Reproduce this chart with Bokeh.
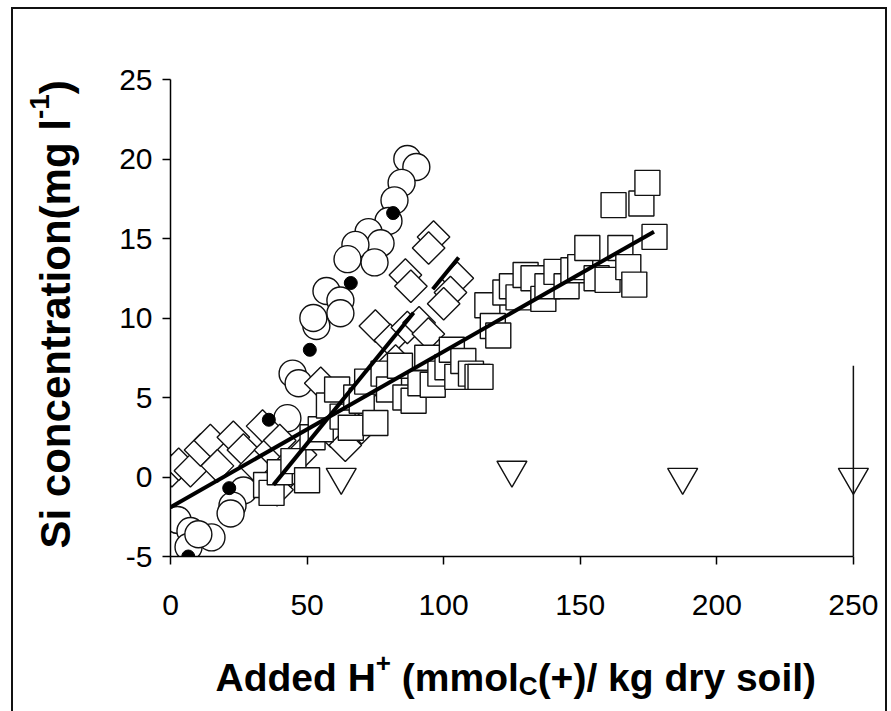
import numpy as np
from bokeh.plotting import figure
from bokeh.layouts import column, row
from bokeh.models import Range1d, FixedTicker, Label
from bokeh.embed import file_html
from bokeh.resources import INLINE

# ---------------- data ----------------
circle_x = [86.7, 90.0, 84.6, 82.0, 79.8, 72.5, 76.9, 67.7, 64.8, 74.7, 57.1, 62.2, 62.2,
            53.4, 52.3, 44.7, 46.9, 42.8, 26.7, 22.7, 22.0, 2.6, 7.3, 15.0, 6.6, 10.2]
circle_y = [20.0, 19.5, 18.5, 17.4, 16.1, 15.4, 14.7, 14.6, 13.7, 13.5, 11.7, 11.1, 10.3,
            9.5, 10.0, 6.5, 5.9, 3.7, -0.85, -1.8, -2.3, -2.7, -3.4, -3.8, -4.4, -3.6]

dot_x = [6.5, 21.5, 36.0, 51.0, 66.0, 81.5]
dot_y = [-5.0, -0.7, 3.6, 8.0, 12.2, 16.6]

diamond_x = [0.5, 3.0, 7.3, 11.0, 14.6, 17.2, 23.0, 26.7, 31.0, 33.7, 36.6, 40.0, 39.0,
             44.0, 47.6, 55.0, 61.0, 66.0, 58.6, 64.0, 70.0, 73.0, 77.6, 75.0, 80.5,
             82.4, 86.7, 91.0, 94.4, 86.0, 88.0, 96.3, 94.5, 105.0, 102.5, 100.0]
diamond_y = [0.4, 0.8, 0.4, 1.7, 2.3, 0.7, 2.5, 1.7, 0.7, 3.2, 1.7, 2.3, -0.8,
             0.4, 1.4, 5.9, 4.8, 3.6, 2.9, 2.0, 3.1, 5.8, 5.9, 9.5, 8.6,
             7.3, 9.4, 9.7, 9.0, 12.7, 12.0, 15.1, 14.4, 12.5, 11.6, 10.9]

square_x = [35.0, 37.0, 40.0, 45.0, 50.0, 52.0, 55.0, 58.0, 61.0, 63.0, 66.0, 68.0, 70.0,
            72.0, 75.0, 78.0, 80.0, 84.0, 86.0, 89.0, 91.5, 94.0, 96.0, 98.8, 101.4, 103.0,
            105.0, 107.2, 110.0, 112.4, 113.5, 116.0, 118.0, 120.0, 122.6, 125.0, 127.4,
            130.0, 132.9, 136.5, 138.0, 141.3, 145.0, 147.5, 150.0, 152.6, 156.0, 160.0,
            162.2, 164.7, 167.6, 169.8, 172.4, 174.6, 177.2]
square_y = [-0.5, -1.0, 0.3, 1.0, -0.2, 2.5, 3.0, 4.5, 5.5, 3.8, 3.1, 5.0, 4.8,
            6.0, 3.4, 6.5, 5.5, 7.0, 5.0, 4.8, 5.9, 7.5, 5.8, 6.5, 6.9, 8.0,
            6.3, 7.3, 6.5, 6.3, 6.3, 10.8, 9.5, 8.9, 11.6, 12.0, 11.3,
            12.7, 12.5, 11.2, 12.0, 12.9, 12.0, 13.0, 13.2, 14.4, 12.5, 12.4,
            17.1, 14.4, 13.2, 12.1, 17.2, 18.5, 15.1]

triangle_x = [62.5, 125.0, 187.5, 250.0]
triangle_y = [0.0, 0.45, 0.0, 0.0]

# fitted straight lines (intercept, slope) and the x spans they are drawn over
square_fit = (-1.9, 0.0979)
square_fit_x = [0.0, 177.0]
diamond_fit = (-8.45, 0.211)
diamond_fit_x1 = [37.7, 89.0]
diamond_fit_x2 = [96.0, 105.5]

# vertical line at the last added-H+ level
vline_x = [250.0, 250.0]
vline_y = [-5.0, 7.0]

x_ticks = [0, 50, 100, 150, 200, 250]
y_ticks = [-5, 0, 5, 10, 15, 20, 25]

x_title = [("Added H", "main"), ("+", "sup"), (" (mmol", "main"), ("C", "sub"),
           ("(+)/ kg dry soil)", "main")]
y_title = [("Si concentration(mg l", "main"), ("-1", "sup"), (")", "main")]

# ---------------- main figure ----------------
FONT = "Liberation Sans"
p = figure(width=785, height=631, x_range=Range1d(0, 257), y_range=Range1d(-5, 25),
           output_backend="svg", toolbar_location=None,
           min_border_left=70, min_border_right=13, min_border_top=70, min_border_bottom=84)
p.outline_line_color = None
p.xgrid.visible = False
p.ygrid.visible = False
p.background_fill_color = "white"
p.border_fill_color = "white"

for ax, ticks, bounds in ((p.xaxis[0], x_ticks, (0, 250)), (p.yaxis[0], y_ticks, (-5, 25))):
    ax.ticker = FixedTicker(ticks=ticks)
    ax.bounds = bounds
    ax.axis_line_color = "black"
    ax.axis_line_width = 1.5
    ax.major_tick_line_color = "black"
    ax.major_tick_line_width = 1.5
    ax.major_tick_in = 0
    ax.major_tick_out = 8
    ax.minor_tick_line_color = None
    ax.major_label_text_font = FONT
    ax.major_label_text_font_size = "30px"
    ax.major_label_text_color = "black"
    ax.major_label_overrides = {t: str(t) for t in ticks}
p.xaxis.major_label_standoff = 30
p.yaxis.major_label_standoff = 10

lw = 1.4
col = "#111111"
p.scatter(circle_x, circle_y, marker="circle", size=27, fill_color="white",
          line_color=col, line_width=lw)
p.scatter(diamond_x, diamond_y, marker="square", angle=np.pi / 4, size=23,
          fill_color="white", line_color=col, line_width=lw)
p.scatter(square_x, square_y, marker="square", size=25, fill_color="white",
          line_color=col, line_width=lw)
p.scatter(dot_x, dot_y, marker="circle", size=13, fill_color="black", line_color="black")
p.scatter(triangle_x, triangle_y, marker="inverted_triangle", size=30, fill_color="white",
          line_color=col, line_width=lw)
p.line(vline_x, vline_y, line_color=col, line_width=1.5)


def fit_line(fit, xs):
    b, m = fit
    xs = np.array(xs)
    return xs, b + m * xs


for fit, xs in ((square_fit, square_fit_x), (diamond_fit, diamond_fit_x1), (diamond_fit, diamond_fit_x2)):
    lx, ly = fit_line(fit, xs)
    p.line(lx, ly, line_color="black", line_width=4)

# ---------------- title figures (real text, with super/subscripts) ----------------
W = {"A": 722, "d": 611, "e": 556, "H": 722, " ": 278, "(": 333, ")": 333, "m": 889,
     "o": 611, "l": 278, "c": 556, "C": 722, "+": 584, "/": 278, "k": 556, "g": 611,
     "r": 389, "y": 556, "s": 556, "i": 278, "S": 667, "n": 611, "t": 333, "a": 556,
     "-": 333, "1": 556}


def width(s, size):
    return sum(W[ch] for ch in s) / 1000.0 * size


def blank_fig(w, h):
    f = figure(width=w, height=h, x_range=Range1d(0, w), y_range=Range1d(0, h),
               output_backend="svg", toolbar_location=None,
               min_border_left=0, min_border_right=0, min_border_top=0, min_border_bottom=0)
    f.axis.visible = False
    f.xgrid.visible = False
    f.ygrid.visible = False
    f.outline_line_color = None
    f.background_fill_color = "white"
    f.border_fill_color = "white"
    return f


def place_title(fig, pieces, start, base, main_sz, sub_sz, shift, vertical):
    pos = start
    for s, kind in pieces:
        sz = main_sz if kind == "main" else sub_sz
        lead = len(s) - len(s.lstrip(" "))
        if lead:
            pos += (-1 if vertical else 1) * width(" " * lead, sz)
            s = s.lstrip(" ")
        off = shift[kind]
        if vertical:
            lab = Label(x=base + off, y=pos, angle=np.pi / 2)
        else:
            lab = Label(x=pos, y=base + off)
        lab.update(x_units="canvas", y_units="canvas", text=s, text_font=FONT,
                   text_font_style="bold", text_font_size=f"{sz}px", text_align="left",
                   text_baseline="alphabetic", text_color="black")
        fig.add_layout(lab)
        pos += (-1 if vertical else 1) * width(s, sz)


# y title figure: page x 13..100, y 9..640
yf = blank_fig(87, 631)
place_title(yf, y_title, start=548 - 9, base=55 - 13, main_sz=42, sub_sz=28,
            shift={"main": 0, "sup": -16, "sub": 8}, vertical=True)

# x title figure: page x 13..885, y 640..713
xf = blank_fig(872, 73)
place_title(xf, x_title, start=215 - 13, base=677 - 640, main_sz=39, sub_sz=26,
            shift={"main": 0, "sup": -15, "sub": 8}, vertical=False)

layout = column(row(yf, p, spacing=0), xf, spacing=0)
layout.styles = {"outline": "2px solid #111111", "margin-left": "13px", "margin-top": "9px"}

open("out.html", "w").write(file_html(layout, INLINE))
